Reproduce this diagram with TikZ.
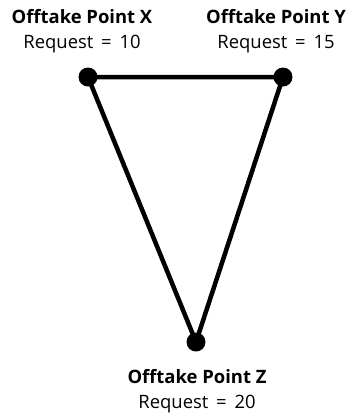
\documentclass[tikz,border=0pt]{standalone}
\usepackage{fontspec}
\setmainfont{Open Sans}
\newcommand{\eqsp}{\hspace{3bp}=\hspace{3bp}}
\begin{document}
\begin{tikzpicture}[x=1bp,y=-1bp,
  dot/.style={circle,fill=black,inner sep=0pt,minimum size=19bp},
  edge/.style={line width=4.5bp},
  lbl/.style={align=center,font=\fontsize{18.5}{25}\selectfont,inner sep=0pt}]
\useasboundingbox (0,0) rectangle (347,414);
\node[dot] (X) at (88,77) {};
\node[dot] (Y) at (283,77) {};
\node[dot] (Z) at (196,342) {};
\draw[edge] (X.center) -- (Y.center) -- (Z.center) -- cycle;
\node[lbl] (lx) at (82,31) {\textbf{Offtake Point X}\\Request \eqsp{} 10};
\node[lbl] (ly) at (276,31) {\textbf{Offtake Point Y}\\Request \eqsp{} 15};
\node[lbl] (lz) at (197,391) {\textbf{Offtake Point Z}\\Request \eqsp{} 20};
\end{tikzpicture}
\end{document}
